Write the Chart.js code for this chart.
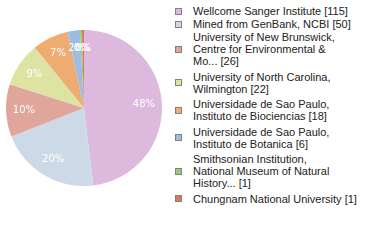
<!DOCTYPE html>
<html>
<head>
<meta charset="utf-8">
<script src="https://cdn.jsdelivr.net/npm/chart.js@4.4.1/dist/chart.umd.min.js"></script>
<style>
  html, body { margin: 0; padding: 0; background: #fff; }
  body { width: 380px; height: 240px; position: relative; overflow: hidden; }
  #pieBox { position: absolute; left: 6px; top: 30px; width: 156px; height: 156px; }
  #legend { position: absolute; left: 175px; top: 5px; width: 205px; font-family: "Liberation Sans", Arial, sans-serif; font-size: 11px; color: #222; }
  .item { display: flex; align-items: center; line-height: 12px; margin-top: 3.5px; }
  .item.first { margin-top: 0; }
  .item.tight { margin-top: 1px; }
  .sw { width: 5px; height: 5px; border: 1px solid #808080; flex: none; margin-right: 11px; }
  .txt { white-space: pre; }
</style>
</head>
<body>
<div id="pieBox"><canvas id="pie"></canvas></div>
<div id="legend"></div>
<script>
// --- DATA ---
const names = [
    'Wellcome Sanger Institute',
    'Mined from GenBank, NCBI',
    'University of New Brunswick,\nCentre for Environmental &\nMo...',
    'University of North Carolina,\nWilmington',
    'Universidade de Sao Paulo,\nInstituto de Biociencias',
    'Universidade de Sao Paulo,\nInstituto de Botanica',
    'Smithsonian Institution,\nNational Museum of Natural\nHistory...',
    'Chungnam National University'
];
const counts = [115, 50, 26, 22, 18, 6, 1, 1];
const colors = ['#DDBADD', '#CCD9E6', '#E0A69C', '#DDE3A2', '#EFAC72', '#9DBDE0', '#9DC57C', '#E07658'];

const total = counts.reduce((a, b) => a + b, 0);

// percentage labels inside the slices
const pctLabels = {
    id: 'pctLabels',
    afterDatasetsDraw(chart) {
        const ctx = chart.ctx;
        const meta = chart.getDatasetMeta(0);
        ctx.save();
        ctx.fillStyle = '#fff';
        ctx.font = '10px "DejaVu Sans", sans-serif';
        ctx.textAlign = 'center';
        ctx.textBaseline = 'middle';
        meta.data.forEach((arc, i) => {
            const p = arc.getProps(['x', 'y', 'startAngle', 'endAngle', 'outerRadius'], true);
            const mid = (p.startAngle + p.endAngle) / 2;
            const r = p.outerRadius * 0.77;
            const pct = Math.floor(counts[i] / total * 100) + '%';
            ctx.fillText(pct, p.x + Math.cos(mid) * r, p.y + Math.sin(mid) * r);
        });
        ctx.restore();
    }
};

new Chart(document.getElementById('pie').getContext('2d'), {
    type: 'pie',
    data: {
        labels: names,
        datasets: [{
            data: counts,
            backgroundColor: colors,
            borderWidth: 0
        }]
    },
    options: {
        responsive: true,
        maintainAspectRatio: false,
        animation: false,
        plugins: { legend: { display: false }, tooltip: { enabled: false } },
        layout: { padding: 0 }
    },
    plugins: [pctLabels]
});

// --- LEGEND ---
const legend = document.getElementById('legend');
names.forEach((n, i) => {
    const row = document.createElement('div');
    row.className = 'item' + (i === 0 ? ' first' : '') + (i === 1 || i === 2 ? ' tight' : '');
    const sw = document.createElement('span');
    sw.className = 'sw';
    sw.style.background = colors[i];
    const t = document.createElement('span');
    t.className = 'txt';
    t.textContent = n + ' [' + counts[i] + ']';
    row.appendChild(sw);
    row.appendChild(t);
    legend.appendChild(row);
});
</script>
</body>
</html>
